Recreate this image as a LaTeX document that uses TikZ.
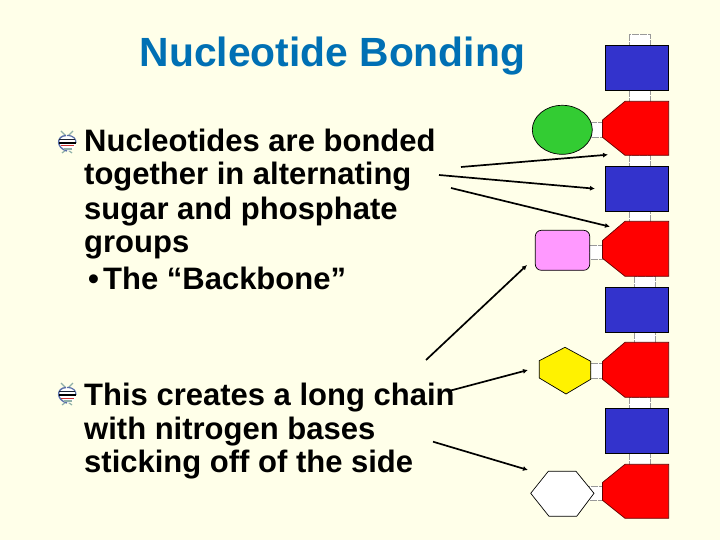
\documentclass[tikz,border=0pt]{standalone}
\usepackage{fontspec}
\setmainfont{Liberation Sans}
\usetikzlibrary{arrows.meta,shapes.geometric}
\definecolor{bgc}{HTML}{FFFFE9}
\definecolor{titlec}{HTML}{0070B4}
\definecolor{bluec}{HTML}{3333CC}
\definecolor{greenc}{HTML}{33CC33}
\definecolor{pinkc}{HTML}{FF99FF}
\definecolor{linkc}{HTML}{999999}
\definecolor{iconb}{HTML}{5A6FA8}
\definecolor{icong}{HTML}{8FB0A8}
\tikzset{
  sugar/.style={draw=black,fill=bluec,line width=.7pt},
  phos/.style={draw=black!60!red,fill=red,line width=.7pt},
  base/.style={draw=black,line width=.7pt},
  linkbox/.style={draw=linkc,dash pattern=on 7pt off 1pt,fill=white,line width=.7pt},
  ptr/.style={-{Latex[length=5pt,width=5pt]},line width=1.7pt,black},
  body/.style={inner sep=0pt,anchor=base west,font=\fontsize{31}{33}\selectfont\bfseries,text=black},
}
\newcommand{\dnaicon}[2]{%
  \begin{scope}[shift={(#1,#2)}]
    \draw[icong,line width=1.2pt] (-6,-11) -- (2,-3);
    \draw[icong,line width=1.2pt] (6,-11) -- (-2,-3);
    \draw[icong,line width=1.2pt] (-5,11) -- (-1,8);
    \draw[icong,line width=1.2pt] (5,11) -- (1,8);
    \fill[white] (0,1) ellipse (9 and 8);
    \draw[iconb,line width=1.4pt] (-1,-6.5) .. controls (-11,-6) and (-11,6) .. (0,9);
    \draw[iconb,line width=1.2pt] (0,-6.5) .. controls (7,-6.5) and (9,-3) .. (9,1);
    \draw[black!70!iconb,line width=1.2pt] (-8,-2.5) -- (8,-2.5);
    \draw[black,line width=1.1pt] (-8,1) -- (9,1);
    \draw[red!60!gray,line width=1pt] (-6,4) -- (7,4);
    \draw[icong,line width=1.1pt] (-3,7) -- (5,7);
  \end{scope}}
\begin{document}
\begin{tikzpicture}[x=1pt,y=-1pt]
\fill[bgc] (0,0) rectangle (720,540);
\useasboundingbox (0,0) rectangle (720,540);

\node[inner sep=0pt,anchor=base west,text=titlec,font=\fontsize{40.8}{42}\selectfont\bfseries] (title) at (139.5,67) {Nucleotide Bonding};

\dnaicon{67}{142}
\dnaicon{67}{394}

\node[body] (t1) at (84,152) {Nucleotides are bonded};
\node[body] (t2) at (84,185) {together in alternating};
\node[body] (t3) at (84,220) {sugar and phosphate};
\node[body] (t4) at (84,252) {groups};
\node[body] (t5) at (103,289) {The “Backbone”};
\node[inner sep=0pt,anchor=base west,font=\fontsize{31}{33}\selectfont\bfseries] (bul) at (88,289) {•};
\node[body] (t6) at (84,405) {This creates a long chain};
\node[body] (t7) at (84,439) {with nitrogen bases};
\node[body] (t8) at (84,472) {sticking off of the side};

% backbone links
\draw[linkbox] (629.3,34.3) rectangle (650.3,46);
\draw[linkbox] (629.3,90) rectangle (650.3,102);
\draw[linkbox] (629.3,155) rectangle (650.3,167);
\draw[linkbox] (629.3,211) rectangle (650.3,222);
\draw[linkbox] (634.3,276) rectangle (655.7,288);
\draw[linkbox] (634.3,332) rectangle (655.7,343);
\draw[linkbox] (629.3,397) rectangle (650.3,409);
\draw[linkbox] (629.3,453) rectangle (650.3,465);
% side links
\draw[linkbox] (591,122) rectangle (603,137);
\draw[linkbox] (589,245) rectangle (603,259);
\draw[linkbox] (590,363) rectangle (603,378);
\draw[linkbox] (588,486) rectangle (603,500);

\path[sugar] (605.3,45.3) rectangle (668.7,90.3);
\path[sugar] (605.3,166.3) rectangle (668.7,211.3);
\path[sugar] (605.3,287.3) rectangle (668.7,332.3);
\path[sugar] (605.3,408.3) rectangle (668.7,453.3);

\path[phos] (625,101.3) -- (668.7,101.3) -- (668.7,155.3) -- (625,155.3) -- (602.5,137.3) -- (602.5,120) -- cycle;
\path[phos] (625,221.3) -- (668.7,221.3) -- (668.7,276.3) -- (625,276.3) -- (602.5,258.3) -- (602.5,240.5) -- cycle;
\path[phos] (625,342.3) -- (668.7,342.3) -- (668.7,397.3) -- (625,397.3) -- (602.5,379.3) -- (602.5,361.5) -- cycle;
\path[phos] (625,464.3) -- (668.7,464.3) -- (668.7,518.3) -- (625,518.3) -- (602.5,500.3) -- (602.5,482.5) -- cycle;

\node[base,fill=greenc,ellipse,minimum width=60pt,minimum height=49pt,inner sep=0pt] (green) at (562.3,129.8) {};
\node[base,fill=pinkc,rectangle,rounded corners=6pt,minimum width=54.4pt,minimum height=40pt,inner sep=0pt] (pink) at (562.5,250.3) {};
\path[base,fill=yellow] (539.3,360.7) -- (565,347.3) -- (590.7,361.3) -- (590.7,379.3) -- (566,394) -- (539.3,378) -- cycle;
\path[base,fill=white] (530.7,493.3) -- (548.3,471.3) -- (576,471.3) -- (594,493.3) -- (576.7,516.3) -- (549,516.3) -- cycle;

\coordinate (a1s) at (461,167); \coordinate (a1e) at (608,154.7);
\coordinate (a2s) at (439,175); \coordinate (a2e) at (595,188.7);
\coordinate (a3s) at (451,188); \coordinate (a3e) at (610,226.7);
\coordinate (a4s) at (426,360); \coordinate (a4e) at (527,265);
\coordinate (a5s) at (450,390.7); \coordinate (a5e) at (528,370);
\coordinate (a6s) at (433,441.7); \coordinate (a6e) at (528,470);
\draw[ptr] (a1s) -- (a1e);
\draw[ptr] (a2s) -- (a2e);
\draw[ptr] (a3s) -- (a3e);
\draw[ptr] (a4s) -- (a4e);
\draw[ptr] (a5s) -- (a5e);
\draw[ptr] (a6s) -- (a6e);
\end{tikzpicture}
\end{document}
